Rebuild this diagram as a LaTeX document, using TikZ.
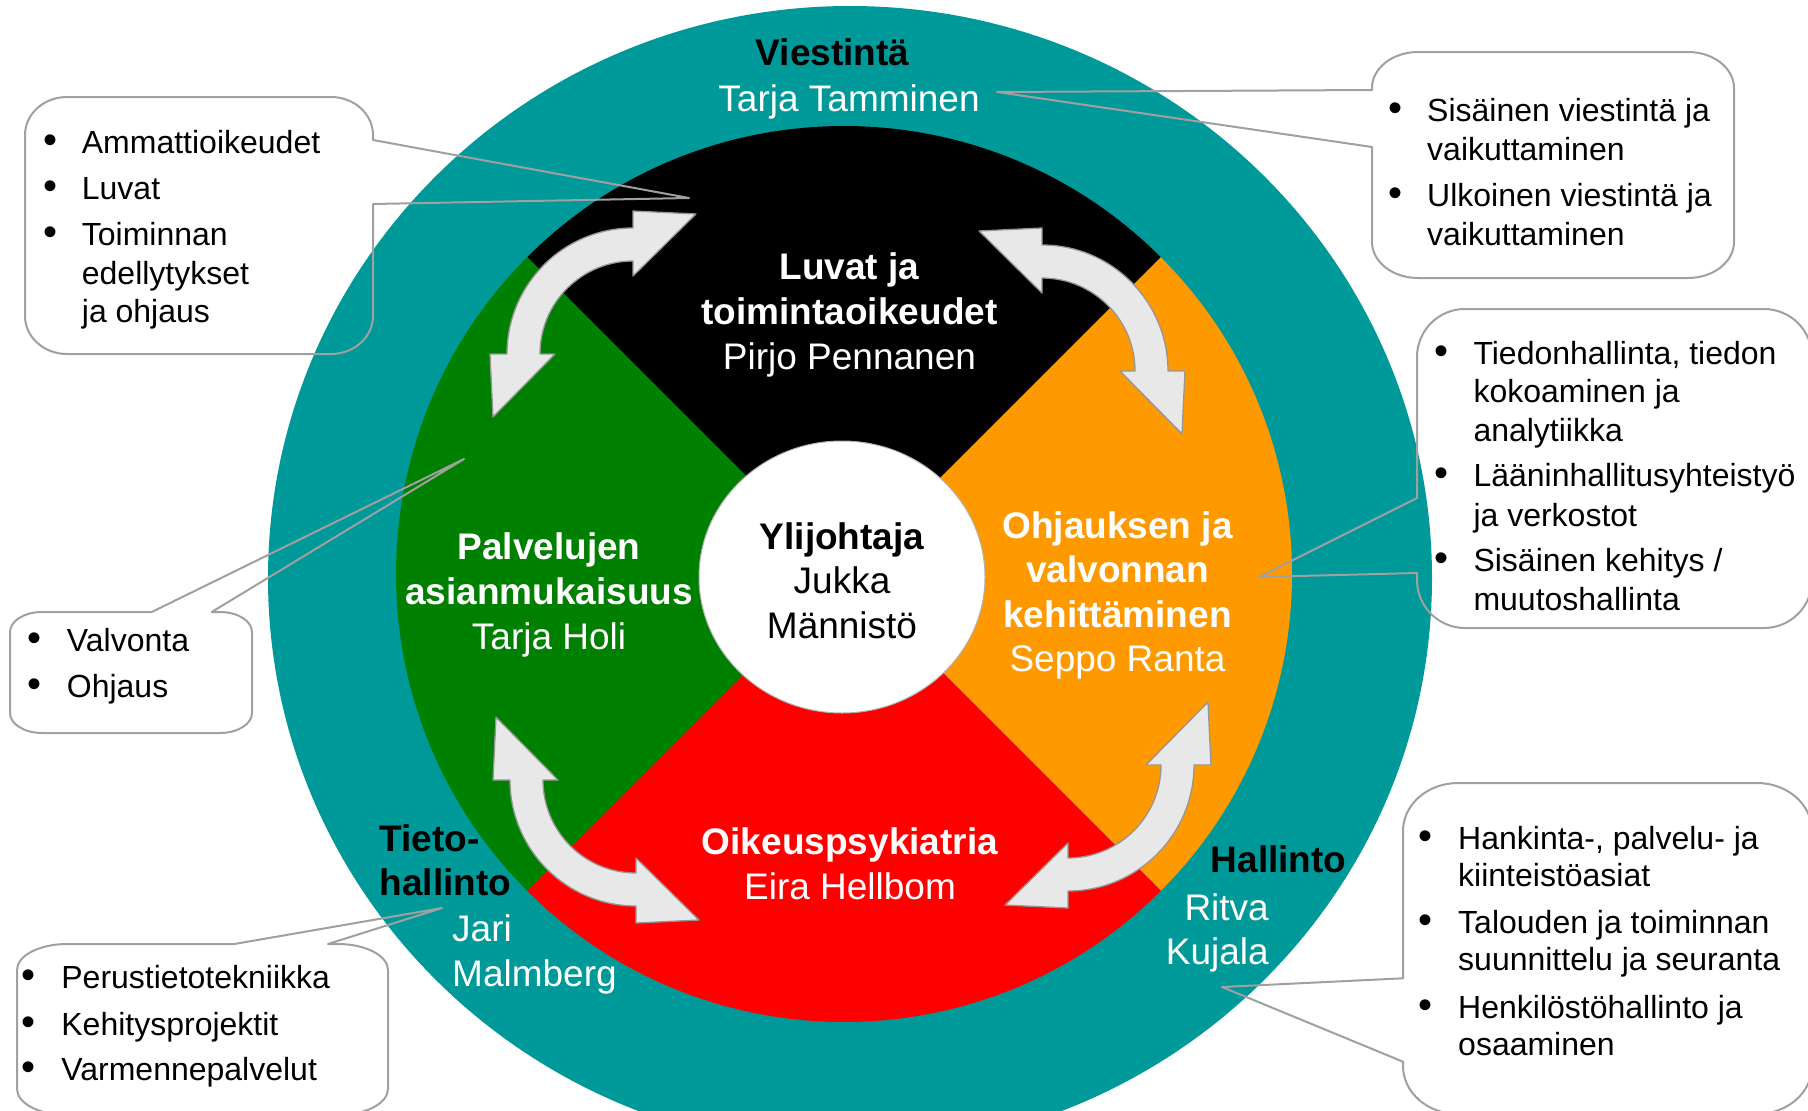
\documentclass[tikz,border=0pt]{standalone}
\usepackage{fontspec}
\setmainfont{Liberation Sans}
\definecolor{cteal}{RGB}{0,153,153}
\definecolor{cgreen}{RGB}{0,128,0}
\definecolor{corange}{RGB}{255,153,0}
\definecolor{cred}{RGB}{255,0,0}
\definecolor{carrow}{RGB}{232,232,232}
\definecolor{carrowline}{RGB}{150,150,150}
\definecolor{cline}{RGB}{160,160,160}
\tikzset{
 nmr/.style={font=\fontsize{37}{44}\selectfont, inner sep=0, anchor=base},
 nmb/.style={nmr, font=\fontsize{37}{44}\selectfont\bfseries},
 cot/.style={font=\fontsize{32}{38}\selectfont, inner sep=0, anchor=base west},
 bul/.style={font=\fontsize{40}{44}\selectfont, inner sep=0, anchor=base},
 callout/.style={draw=cline, line width=2, line join=round},
 arrowsty/.style={fill=carrow, draw=carrowline, line width=1.3, line join=round},
}
% rounded callout outline: x0 y0 x1 y1, extra path on top, right, bottom, left edge
\newcommand{\cbox}[8]{%
 \draw[callout] (#1+\crx,#2) #5 -- (#3-\crx,#2)
   arc[start angle=270,end angle=360,x radius=\crx,y radius=\cry] #6 -- (#3,#4-\cry)
   arc[start angle=0,end angle=90,x radius=\crx,y radius=\cry] #7 -- (#1+\crx,#4)
   arc[start angle=90,end angle=180,x radius=\crx,y radius=\cry] #8 -- (#1,#2+\cry)
   arc[start angle=180,end angle=270,x radius=\crx,y radius=\cry] -- cycle;}
% curved double arrow: name, centre x, centre y, start angle
\newcommand{\carrow}[4]{%
 \pgfmathsetmacro\arA{#4}%
 \pgfmathsetmacro\arB{#4+90}%
 \pgfmathsetmacro\arTA{#4-24.2}%
 \pgfmathsetmacro\arTB{#4+90+24.2}%
 \coordinate (#1) at (#2,#3);
 \filldraw[arrowsty, shift={(#2,#3)}] (\arA:126) -- (\arA:143) -- (\arTA:153.5) -- (\arA:78) -- (\arA:93)
   arc[start angle=\arA,end angle=\arB,radius=93] -- (\arB:78) -- (\arTB:153.5) -- (\arB:143) -- (\arB:126)
   arc[start angle=\arB,end angle=\arA,radius=126] -- cycle;}
\newcommand{\cl}[4]{\node[cot] (#1) at (#2,#3) {#4};}
\newcommand{\bu}[3]{\node[bul] (#1) at (#2,#3) {•};}
\begin{document}
\begin{tikzpicture}[x=1pt,y=-1pt]
\useasboundingbox (0,0) rectangle (1808,1111);
\clip (0,0) rectangle (1808,1111);
\fill[white] (0,0) rectangle (1808,1111);
% rings
\fill[cteal] (850,578) ellipse[x radius=582,y radius=572];
\coordinate (c) at (844,574);
\fill[black]   (c) -- ++(225:448) arc[start angle=225,end angle=315,radius=448] -- cycle;
\fill[corange] (c) -- ++(-45:448) arc[start angle=-45,end angle=45,radius=448] -- cycle;
\fill[cred]    (c) -- ++(45:448) arc[start angle=45,end angle=135,radius=448] -- cycle;
\fill[cgreen]  (c) -- ++(135:448) arc[start angle=135,end angle=225,radius=448] -- cycle;
\filldraw[fill=white, draw=gray!60, line width=1] (842,577) ellipse[x radius=143,y radius=136];
% arrows
\carrow{atl}{633}{354}{180}
\carrow{atr}{1042}{371}{270}
\carrow{abr}{1068}{765}{0}
\carrow{abl}{636}{780}{90}
% labels
\node[nmb] (vi) at (832.5,65) {Viestintä};
\node[nmr,text=white] (vin) at (849,111.7) {Tarja Tamminen};
\node[nmb,text=white] (lu1) at (849.5,279) {Luvat ja};
\node[nmb,text=white] (lu2) at (849.5,324) {toimintaoikeudet};
\node[nmr,text=white] (lun) at (849.5,369) {Pirjo Pennanen};
\node[nmb] (yl) at (842,549) {Ylijohtaja};
\node[nmr] (yl1) at (842,593.5) {Jukka};
\node[nmr] (yl2) at (842,638) {Männistö};
\node[nmb,text=white] (pa1) at (549,559) {Palvelujen};
\node[nmb,text=white] (pa2) at (549,604) {asianmukaisuus};
\node[nmr,text=white] (pan) at (549,649) {Tarja Holi};
\node[nmb,text=white] (oh1) at (1117.5,538) {Ohjauksen ja};
\node[nmb,text=white] (oh2) at (1117.5,582.5) {valvonnan};
\node[nmb,text=white] (oh3) at (1117.5,627) {kehittäminen};
\node[nmr,text=white] (ohn) at (1117.5,671.5) {Seppo Ranta};
\node[nmb,text=white] (oi) at (850,854.5) {Oikeuspsykiatria};
\node[nmr,text=white] (oin) at (850,899) {Eira Hellbom};
\node[nmb,anchor=base west] (ti1) at (379.5,851) {Tieto-};
\node[nmb,anchor=base west] (ti2) at (379.5,895.7) {hallinto};
\node[nmr,text=white,anchor=base west] (tin1) at (452,941.7) {Jari};
\node[nmr,text=white,anchor=base west] (tin2) at (452,986.7) {Malmberg};
\node[nmb,anchor=base west] (ha) at (1210.6,872.7) {Hallinto};
\node[nmr,text=white,anchor=base east] (han1) at (1269,920) {Ritva};
\node[nmr,text=white,anchor=base east] (han2) at (1269,964) {Kujala};
% callout tips
\coordinate (tip1) at (689,198);
\coordinate (tip2) at (997,92);
\coordinate (tip3) at (1259,577);
\coordinate (tip4) at (464,459);
\coordinate (tip5) at (442,908);
\coordinate (tip6) at (1222,987);
% callout 1
\def\crx{42}\def\cry{38}
\cbox{25}{97}{373}{354}{}{-- (373,140) -- (tip1) -- (373,204)}{}{}
\bu{b1a}{50.5}{153.3}\bu{b1b}{50.5}{199}\bu{b1c}{50.5}{245.7}
\cl{t1a}{81.7}{153.3}{Ammattioikeudet}
\cl{t1b}{81.7}{199}{Luvat}
\cl{t1c}{81.7}{245.7}{Toiminnan}
\cl{t1d}{81.7}{284}{edellytykset}
\cl{t1e}{81.7}{322.3}{ja ohjaus}
% callout 2
\def\crx{46}\def\cry{36}
\cbox{1372}{52}{1734}{278}{}{}{}{-- (1372,147) -- (tip2) -- (1372,90)}
\bu{b2a}{1395}{121.7}\bu{b2b}{1395}{206.7}
\cl{t2a}{1427}{121.7}{Sisäinen viestintä ja}
\cl{t2b}{1427}{160}{vaikuttaminen}
\cl{t2c}{1427}{206.7}{Ulkoinen viestintä ja}
\cl{t2d}{1427}{245}{vaikuttaminen}
% callout 3
\def\crx{48}\def\cry{48}
\cbox{1417}{309}{1812}{628}{}{}{}{-- (1417,573) -- (tip3) -- (1417,498)}
\bu{b3a}{1441.7}{364}\bu{b3b}{1441.7}{486.7}\bu{b3c}{1441.7}{571.7}
\cl{t3a}{1473.3}{364}{Tiedonhallinta, tiedon}
\cl{t3b}{1473.3}{402.7}{kokoaminen ja}
\cl{t3c}{1473.3}{441.7}{analytiikka}
\cl{t3d}{1473.3}{486.7}{Lääninhallitusyhteistyö}
\cl{t3e}{1473.3}{526}{ja verkostot}
\cl{t3f}{1473.3}{571.7}{Sisäinen kehitys /}
\cl{t3g}{1473.3}{610}{muutoshallinta}
% callout 4
\def\crx{32}\def\cry{20}
\cbox{10}{612}{252}{733}{-- (151.7,612) -- (tip4) -- (211.7,612)}{}{}{}
\bu{b4a}{35}{651.7}\bu{b4b}{35}{697.7}
\cl{t4a}{66.7}{651.7}{Valvonta}
\cl{t4b}{66.7}{697.7}{Ohjaus}
% callout 5
\def\crx{50}\def\cry{26}
\cbox{17}{944}{388}{1115}{-- (234.4,944) -- (tip5) -- (328,944)}{}{}{}
\bu{b5a}{29}{988.3}\bu{b5b}{29}{1035}\bu{b5c}{29}{1080}
\cl{t5a}{61.2}{988.3}{Perustietotekniikka}
\cl{t5b}{61.2}{1035}{Kehitysprojektit}
\cl{t5c}{61.2}{1080}{Varmennepalvelut}
% callout 6
\def\crx{55}\def\cry{48}
\cbox{1403}{783}{1812}{1114}{}{}{}{-- (1403,1061.7) -- (tip6) -- (1403,978.3)}
\bu{b6a}{1425}{849.3}\bu{b6b}{1425}{933.3}\bu{b6c}{1425}{1018.3}
\cl{t6a}{1458}{849.3}{Hankinta-, palvelu- ja}
\cl{t6b}{1458}{886.7}{kiinteistöasiat}
\cl{t6c}{1458}{933.3}{Talouden ja toiminnan}
\cl{t6d}{1458}{970.7}{suunnittelu ja seuranta}
\cl{t6e}{1458}{1018.3}{Henkilöstöhallinto ja}
\cl{t6f}{1458}{1055}{osaaminen}
\end{tikzpicture}
\end{document}
